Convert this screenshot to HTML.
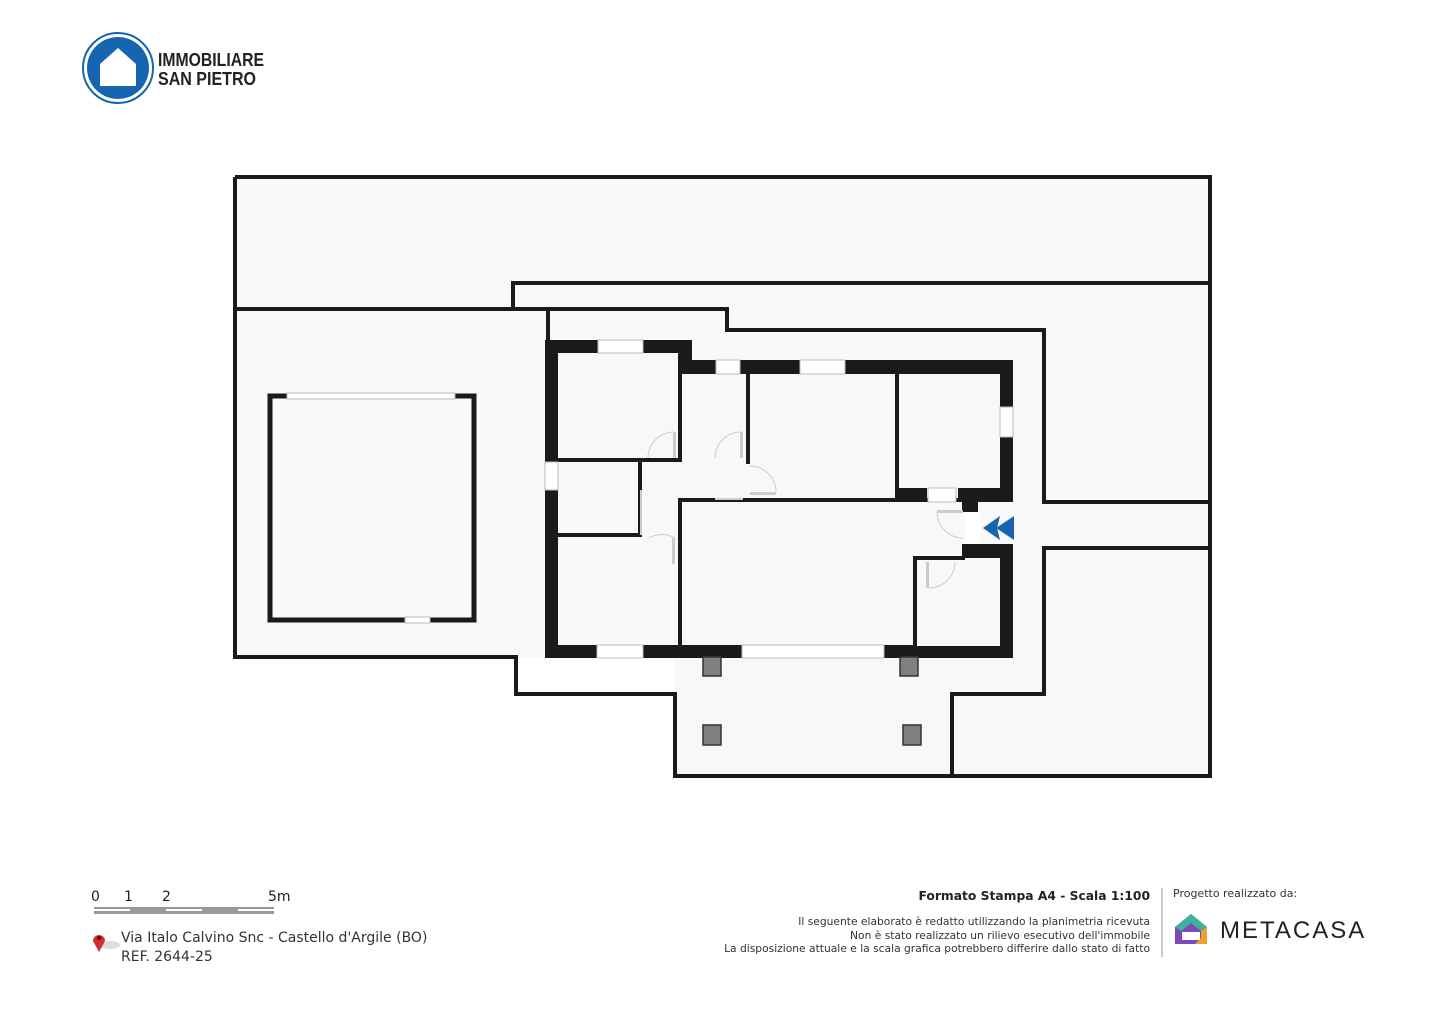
<!DOCTYPE html>
<html><head><meta charset="utf-8"><style>
body{margin:0;width:1440px;height:1018px;background:#fff;overflow:hidden;position:relative;font-family:"Liberation Sans","DejaVu Sans",sans-serif}
.t{position:absolute;white-space:nowrap}
.d{font-family:"DejaVu Sans",sans-serif}
</style></head><body>
<svg width="1440" height="1018" style="position:absolute;left:0;top:0">
<circle cx="118" cy="68" r="35" fill="none" stroke="#1565b0" stroke-width="2"/>
<circle cx="118" cy="68" r="31" fill="#1565b0"/>
<path d="M100 86 V64 L118 48 L136 64 V86 Z" fill="#fff"/>
<text x="158" y="66" font-family="Liberation Sans" font-weight="bold" font-size="18" fill="#222" textLength="106" lengthAdjust="spacingAndGlyphs">IMMOBILIARE</text>
<text x="158" y="85" font-family="Liberation Sans" font-weight="bold" font-size="18" fill="#222" textLength="98" lengthAdjust="spacingAndGlyphs">SAN PIETRO</text>
<rect x="235" y="177" width="975" height="599" fill="#f7f8f9"/>
<rect x="0" y="658" width="675" height="36" fill="#fff"/>
<rect x="0" y="694" width="673" height="100" fill="#fff"/>
<g fill="none" stroke="#1a1a1a" stroke-width="4">
<polyline points="235,177 1210,177 1210,776 675,776 675,694 516,694 516,657 235,657 235,177"/>
<polyline points="235,309 548,309 548,340"/>
<polyline points="513,309 513,283 1210,283"/>
<polyline points="548,309 727,309 727,330 1044,330 1044,502 1210,502"/>
<polyline points="1210,548 1044,548 1044,694 952,694 952,776"/>
</g>
<rect x="270" y="396" width="204" height="224" fill="#f7f8f9" stroke="#1a1a1a" stroke-width="5"/>
<rect x="287" y="393" width="168" height="6" fill="#fff" stroke="#bbb" stroke-width="1"/>
<rect x="405" y="617" width="25" height="6" fill="#fff" stroke="#bbb" stroke-width="1"/>
<path d="M545 340 H690 V360 H1013 V502 H965 V544 H1013 V658 H545 Z" fill="#f7f8f9"/>
<g fill="#1a1a1a">
<rect x="545" y="340" width="147" height="13"/>
<rect x="678" y="340" width="14" height="34"/>
<rect x="678" y="360" width="335" height="14"/>
<rect x="1000" y="360" width="13" height="142"/>
<rect x="545" y="340" width="13" height="318"/>
<rect x="545" y="645" width="468" height="13"/>
<rect x="965" y="544" width="48" height="114"/>
<rect x="897" y="488" width="30" height="14"/>
<rect x="958" y="488" width="55" height="14"/>
<rect x="962" y="488" width="16" height="24"/>
<rect x="962" y="544" width="16" height="16"/>
<rect x="678" y="352" width="4" height="110"/>
<rect x="558" y="458" width="124" height="4"/>
<rect x="638" y="460" width="4" height="77"/>
<rect x="558" y="533" width="82" height="4"/>
<rect x="746" y="372" width="4" height="92"/>
<rect x="678" y="498" width="4" height="149"/>
<rect x="680" y="498" width="322" height="4"/>
<rect x="895" y="372" width="4" height="128"/>
<rect x="913" y="556" width="4" height="91"/>
<rect x="913" y="556" width="54" height="4"/>
</g>
<rect x="965" y="512" width="15" height="32" fill="#fff"/>
<rect x="965" y="558" width="35" height="88" fill="#f7f8f9"/>
<rect x="917" y="560" width="50" height="86" fill="#f7f8f9"/>
<rect x="1000" y="558" width="13" height="88" fill="#1a1a1a"/>
<g fill="#fff" stroke="#bbb" stroke-width="1">
<rect x="598" y="340" width="45" height="13"/>
<rect x="716" y="360" width="24" height="14"/>
<rect x="800" y="360" width="45" height="14"/>
<rect x="1000" y="407" width="13" height="30"/>
<rect x="545" y="462" width="13" height="28"/>
<rect x="597" y="645" width="46" height="13"/>
<rect x="742" y="645" width="142" height="13"/>
<rect x="928" y="488" width="28" height="14"/>
</g>
<g fill="none" stroke="#ccc" stroke-width="1">
<path d="M674 432 A26 26 0 0 0 648 458"/>
<path d="M741 432 A26 26 0 0 0 715 458"/>
<path d="M750 466 A26 26 0 0 1 776 492"/>
<path d="M675 538 A26 26 0 0 0 649 538"/>
<path d="M937 512 A26 26 0 0 0 963 538"/>
<path d="M929 588 A26 26 0 0 0 955 562"/>
</g>
<g fill="#ccc">
<rect x="673" y="432" width="3" height="26"/>
<rect x="740" y="432" width="3" height="26"/>
<rect x="750" y="492" width="26" height="3"/>
<rect x="672" y="538" width="3" height="26"/>
<rect x="937" y="510" width="26" height="3"/>
<rect x="926" y="562" width="3" height="26"/>
<rect x="640" y="490" width="2" height="45"/>
<rect x="715" y="498" width="28" height="2"/>
</g>
<g fill="#808080" stroke="#333" stroke-width="1.5">
<rect x="703" y="657" width="18" height="19"/>
<rect x="900" y="657" width="18" height="19"/>
<rect x="703" y="725" width="18" height="20"/>
<rect x="903" y="725" width="18" height="20"/>
</g>
<path d="M983 528 L1000 516 L997 528 L1000 540 Z" fill="#1565b0"/>
<path d="M996 528 L1014 516 L1014 540 Z" fill="#1565b0"/>
<rect x="94" y="907" width="180" height="7" fill="#999"/>
<rect x="94" y="909" width="36" height="2" fill="#fff"/>
<rect x="166" y="909" width="36" height="2" fill="#fff"/>
<rect x="238" y="909" width="36" height="2" fill="#fff"/>
<ellipse cx="110" cy="945" rx="10" ry="4" fill="#ddd"/>
<path d="M99 952 L93 941 A6 6 0 1 1 105 941 Z" fill="#d32f2f"/>
<circle cx="99" cy="938" r="2" fill="#600"/>
<line x1="1162" y1="888" x2="1162" y2="957" stroke="#ccc" stroke-width="2"/>
<path d="M1175 927 L1191 914 L1207 927 V944 H1175 Z" fill="#7b4ab8"/>
<path d="M1175 927 L1191 914 L1207 927 L1201 931 L1191 923 L1181 931 Z" fill="#3cb39a"/>
<path d="M1195 944 H1207 V927 L1201 931 V938 Z" fill="#f0a030"/>
<rect x="1182" y="932" width="18" height="8" fill="#fff"/>
</svg>
<div class="t d" style="left:91px;top:889px;font-size:14px;color:#222">0</div>
<div class="t d" style="left:124px;top:889px;font-size:14px;color:#222">1</div>
<div class="t d" style="left:162px;top:889px;font-size:14px;color:#222">2</div>
<div class="t d" style="left:268px;top:889px;font-size:14px;color:#222">5m</div>
<div class="t d" style="left:121px;top:930px;font-size:14px;color:#333">Via Italo Calvino Snc - Castello d'Argile (BO)</div>
<div class="t d" style="left:121px;top:949px;font-size:14px;color:#333">REF. 2644-25</div>
<div class="t d" style="right:290px;top:889px;font-size:12.3px;font-weight:bold;color:#222">Formato Stampa A4 - Scala 1:100</div>
<div class="t d" style="right:290px;top:915px;font-size:10.7px;color:#333;text-align:right;line-height:13.5px">Il seguente elaborato è redatto utilizzando la planimetria ricevuta<br>Non è stato realizzato un rilievo esecutivo dell'immobile<br>La disposizione attuale e la scala grafica potrebbero differire dallo stato di fatto</div>
<div class="t d" style="left:1173px;top:887px;font-size:11px;color:#333">Progetto realizzato da:</div>
<div class="t" style="left:1220px;top:917px;font-size:24px;letter-spacing:2px;color:#222">METACASA</div>
</body></html>
